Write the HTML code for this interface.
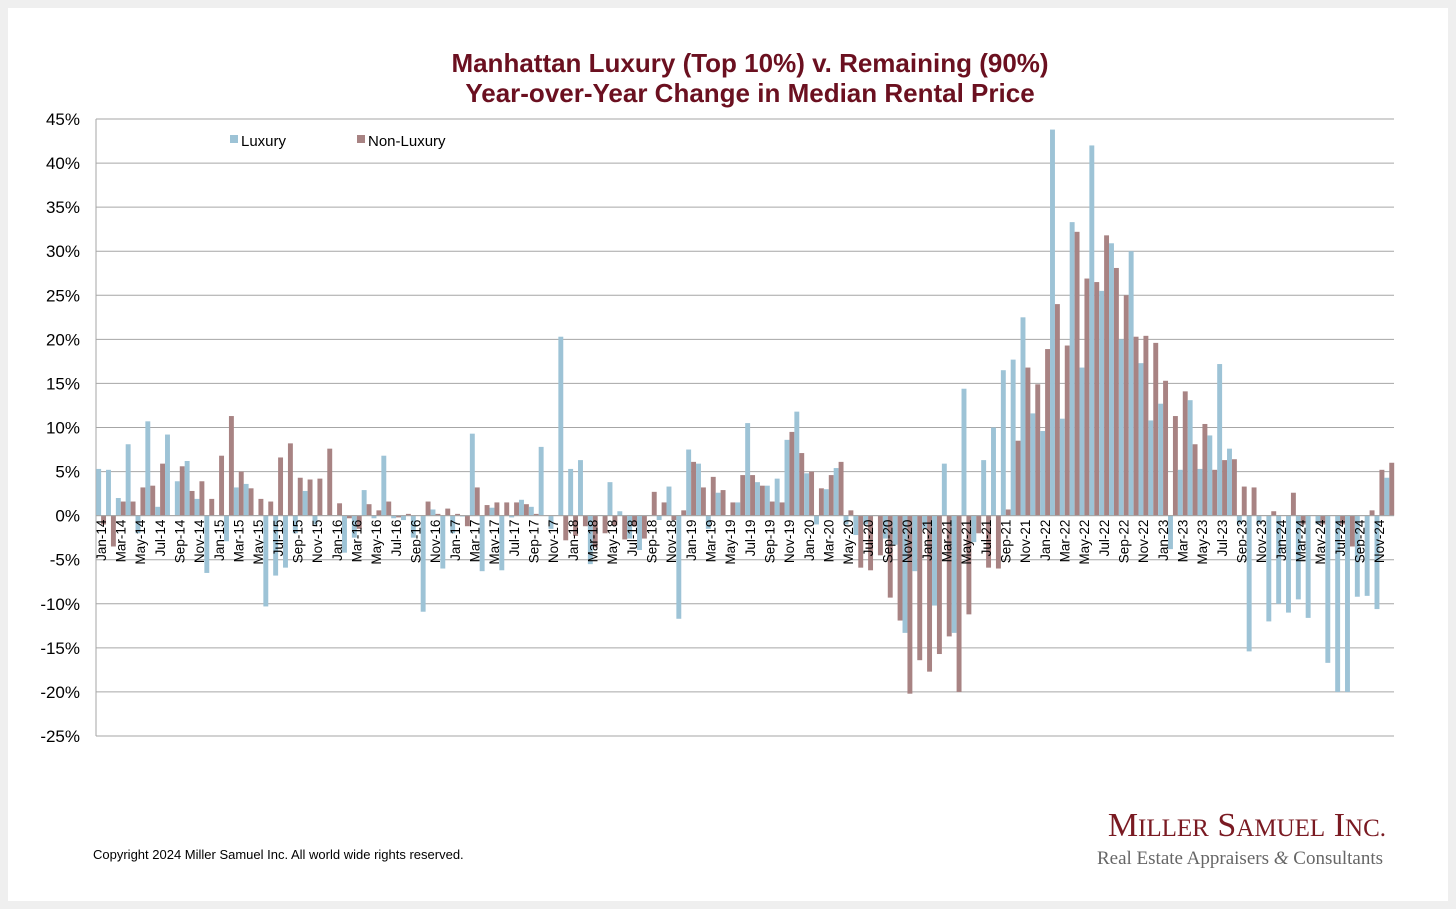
<!DOCTYPE html>
<html><head><meta charset="utf-8"><style>
html,body{margin:0;padding:0;background:#efefef;}
#wrap{position:absolute;left:8px;top:8px;width:1440px;height:893px;background:#fff;}
svg{position:absolute;left:0;top:0;}
</style></head><body>
<div id="wrap"></div>
<svg id="chart" width="1456" height="909" xmlns="http://www.w3.org/2000/svg"></svg>
<script>
const monthNames=['Jan','Feb','Mar','Apr','May','Jun','Jul','Aug','Sep','Oct','Nov','Dec'];
const years=[14,15,16,17,18,19,20,21,22,23,24];
const luxury=[5.3,5.2,2,8.1,-2,10.7,1,9.2,3.9,6.2,1.9,-6.5,
0,-2.9,3.2,3.6,0,-10.3,-6.8,-5.9,-2,2.8,-1,0,
0,-4.2,-2.5,2.9,-0.3,6.8,-0.3,-0.5,-2.5,-10.9,0.7,-6,
-2,-0.1,9.3,-6.3,0.9,-6.2,-0.2,1.8,1,7.8,-1.5,20.3,
5.3,6.3,-5.5,0,3.8,0.5,-2.6,-3.9,0,-0.5,3.3,-11.7,
7.5,5.9,-1.5,2.6,0,1.5,10.5,3.8,3.4,4.2,8.6,11.8,
4.8,-1,3,5.4,-1,-2.2,-1,0,-2.6,-3.3,-13.3,-6.3,
-1.5,-10.2,5.9,-13.3,14.4,-3,6.3,10,16.5,17.7,22.5,11.6,
9.6,43.8,11,33.3,16.8,42,25.5,30.9,20,30,17.3,10.8,
12.7,-3.8,5.2,13.1,5.3,9.1,17.2,7.6,-1,-15.4,-1,-12,
-10,-11,-9.5,-11.6,-1,-16.7,-20,-20,-9.2,-9.1,-10.6,4.3];
const nonLuxury=[-1,-3.5,1.6,1.6,3.2,3.4,5.9,0,5.6,2.8,3.9,1.9,
6.8,11.3,5,3.1,1.9,1.6,6.6,8.2,4.3,4.1,4.2,7.6,
1.4,-0.3,-1.5,1.3,0.6,1.6,-0.2,0.2,0,1.6,0.2,0.8,
0.2,-1.2,3.2,1.2,1.5,1.5,1.5,1.3,0.2,0,0,-2.8,
-2.3,-1.2,-3.6,-2,-1.1,-2.7,-1.2,-2.6,2.7,1.5,-0.5,0.6,
6.1,3.2,4.4,2.9,1.5,4.6,4.6,3.4,1.6,1.5,9.5,7.1,
5,3.1,4.6,6.1,0.6,-5.9,-6.2,-4.5,-9.3,-11.9,-20.2,-16.4,
-17.7,-15.7,-13.7,-20,-11.2,-2,-5.9,-6,0.7,8.5,16.8,14.9,
18.9,24,19.3,32.2,26.9,26.5,31.8,28.1,25,20.3,20.4,19.6,
15.3,11.3,14.1,8.1,10.4,5.2,6.3,6.4,3.3,3.2,0,0.5,
0,2.6,-1,0,-1,0,-1,-3.5,0,0.6,5.2,6];
const yTicks=[45,40,35,30,25,20,15,10,5,0,-5,-10,-15,-20,-25];
const categories=[];years.forEach(y=>monthNames.forEach(m=>categories.push(m+'-'+y)));

const svg=document.getElementById('chart');const NS='http://www.w3.org/2000/svg';
function mk(t,a,txt){const e=document.createElementNS(NS,t);for(const k in a)e.setAttribute(k,a[k]);if(txt!=null)e.textContent=txt;svg.appendChild(e);return e;}
const X0=96,X1=1394,YT=119,YB=736,VMAX=45,VMIN=-25;
const step=(X1-X0)/categories.length;
function yS(v){return YT+(VMAX-v)/(VMAX-VMIN)*(YB-YT);}
function xS(i){return X0+i*step;}
const F='"Liberation Sans",Arial,sans-serif';
yTicks.forEach(t=>{
 const g=mk('line',{x1:X0,x2:X1,y1:yS(t),y2:yS(t),stroke:'#a6a6a6','stroke-width':1});
 
 const l=mk('text',{x:80,y:yS(t)+6,'text-anchor':'end','font-family':F,'font-size':17,fill:'#000'},t+'%');
 
});
mk('line',{x1:X0,x2:X0,y1:YT,y2:YB,stroke:'#a6a6a6','stroke-width':1});
const bw=step*0.5;
categories.forEach((c,i)=>{
 const x=xS(i)+step*0.02;
 const z=yS(0);
 let v=luxury[i],y=yS(v);
 const b1=mk('rect',{x:x,y:Math.min(y,z),width:bw,height:Math.max(Math.abs(z-y),0.01),fill:'#9dc3d6'});
 
 v=nonLuxury[i];y=yS(v);
 const b2=mk('rect',{x:x+bw,y:Math.min(y,z),width:bw,height:Math.max(Math.abs(z-y),0.01),fill:'#a88383'});
 
 if(i%2===0){
  const cx=xS(i)+step*0.5+5,cy=yS(0)+4;
  const t=mk('text',{x:cx,y:cy,'text-anchor':'end','font-family':F,'font-size':13.5,fill:'#000',transform:'rotate(-90 '+cx+' '+cy+')'},c);
  
 }
});
mk('line',{x1:X0,x2:X1,y1:yS(0),y2:yS(0),stroke:'#a6a6a6','stroke-width':1});
</script>
<svg width="1456" height="909" style="position:absolute;left:0;top:0">
<text x="750" y="72" text-anchor="middle" font-family="Liberation Sans,Arial,sans-serif" font-weight="bold" font-size="26" fill="#6b1020">Manhattan Luxury (Top 10%) v. Remaining (90%)</text>
<text x="750" y="102" text-anchor="middle" font-family="Liberation Sans,Arial,sans-serif" font-weight="bold" font-size="26" fill="#6b1020">Year-over-Year Change in Median Rental Price</text>
<g>
<rect x="230" y="135" width="8" height="8" fill="#9dc3d6"/>
<text x="241" y="146" font-family="Liberation Sans,Arial,sans-serif" font-size="15">Luxury</text>
<rect x="357" y="135" width="8" height="8" fill="#a88383"/>
<text x="368" y="146" font-family="Liberation Sans,Arial,sans-serif" font-size="15">Non-Luxury</text>
</g>
<text x="93" y="859" font-family="Liberation Sans,Arial,sans-serif" font-size="13">Copyright 2024 Miller Samuel Inc.  All world wide rights reserved.</text>
<text x="1386" y="836" text-anchor="end" font-family="Liberation Serif,serif" font-size="34" fill="#7a1a22">M<tspan font-size="25">ILLER</tspan> S<tspan font-size="25">AMUEL</tspan> I<tspan font-size="25">NC.</tspan></text>
<text x="1383" y="864" text-anchor="end" font-family="Liberation Serif,serif" font-size="19" fill="#666">Real Estate Appraisers <tspan font-style="italic">&amp;</tspan> Consultants</text>
</svg>
</body></html>
